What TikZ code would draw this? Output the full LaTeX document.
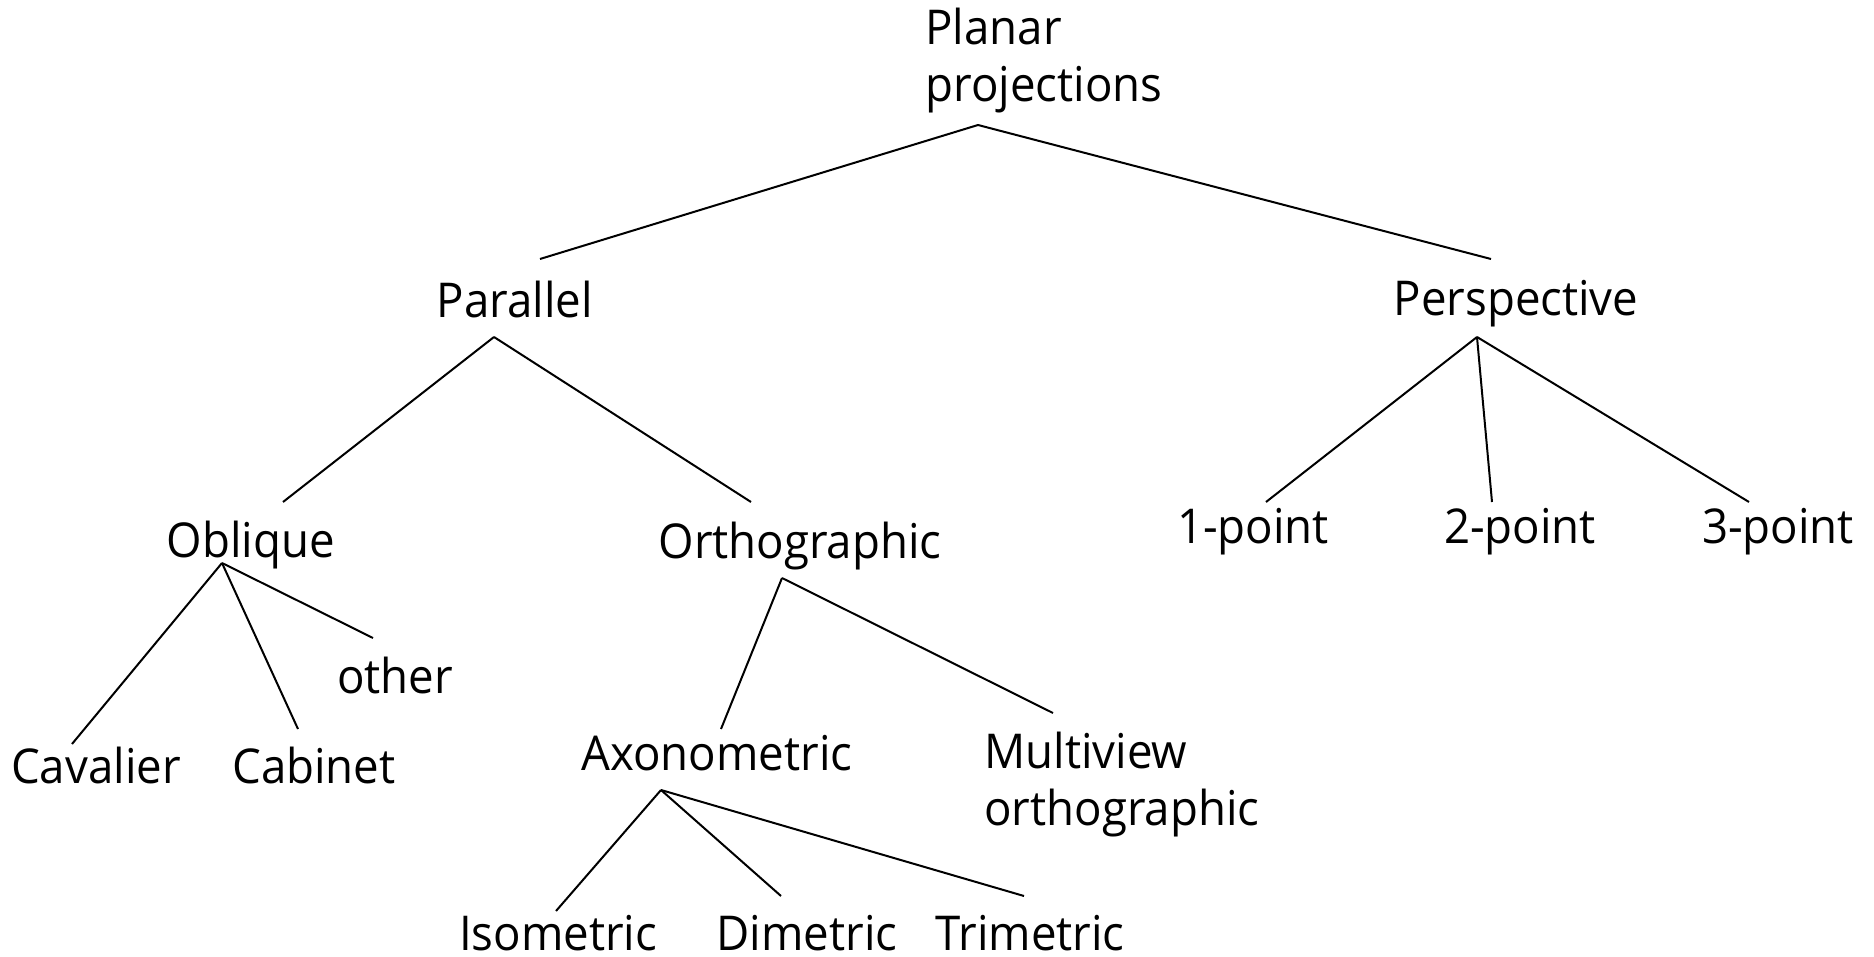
\documentclass[tikz,border=0pt]{standalone}
\usepackage{fontspec}
\setmainfont{Open Sans}[FakeStretch=0.95]

\begin{document}
\begin{tikzpicture}[x=0.5pt, y=-0.5pt,
    every node/.style={anchor=base, inner sep=0pt, font=\fontsize{24}{28.5}\selectfont}]
  \useasboundingbox (0,0) rectangle (1874,957);
  \node (planar) [anchor=base west, align=left] at (925,102) {Planar\\projections};
  \node (par)   at (515,317)  {Parallel};
  \node (persp) at (1516,315) {Perspective};
  \node (obl)   at (251,557)  {Oblique};
  \node (ortho) at (800,558)  {Orthographic};
  \node (one)   at (1253,543) {1-point};
  \node (two)   at (1520,543) {2-point};
  \node (three) at (1778,543) {3-point};
  \node (cav)   at (96,783)   {Cavalier};
  \node (cab)   at (314,783)  {Cabinet};
  \node (other) at (395,693)  {other};
  \node (axo)   at (717,770)  {Axonometric};
  \node (multi) [anchor=base west, align=left] at (984,825) {Multiview\\orthographic};
  \node (iso)   at (558,950)  {Isometric};
  \node (dim)   at (807,950)  {Dimetric};
  \node (tri)   at (1030,950) {Trimetric};
  \path[line width=1pt]
  ([shift={(53,23)}]planar.base west) edge ([shift={(25,-58)}]par.base)
                                      edge ([shift={(-25,-56)}]persp.base)
  ([shift={(-21,20)}]par.base) edge ([shift={(32,-55)}]obl.base)
                               edge ([shift={(-49,-56)}]ortho.base)
  ([shift={(-39,22)}]persp.base) edge ([shift={(13,-41)}]one.base)
                                 edge ([shift={(-28,-41)}]two.base)
                                 edge ([shift={(-29,-41)}]three.base)
  ([shift={(-29,6)}]obl.base) edge ([shift={(-24,-39)}]cav.base)
                              edge ([shift={(-16,-54)}]cab.base)
                              edge ([shift={(-22,-55)}]other.base)
  ([shift={(-18,20)}]ortho.base) edge ([shift={(4,-41)}]axo.base)
                                 edge ([shift={(69,-112)}]multi.base west)
  ([shift={(-56,20)}]axo.base) edge ([shift={(-2,-39)}]iso.base)
                               edge ([shift={(-26,-54)}]dim.base)
                               edge ([shift={(-6,-54)}]tri.base)
  ;
\end{tikzpicture}
\end{document}
